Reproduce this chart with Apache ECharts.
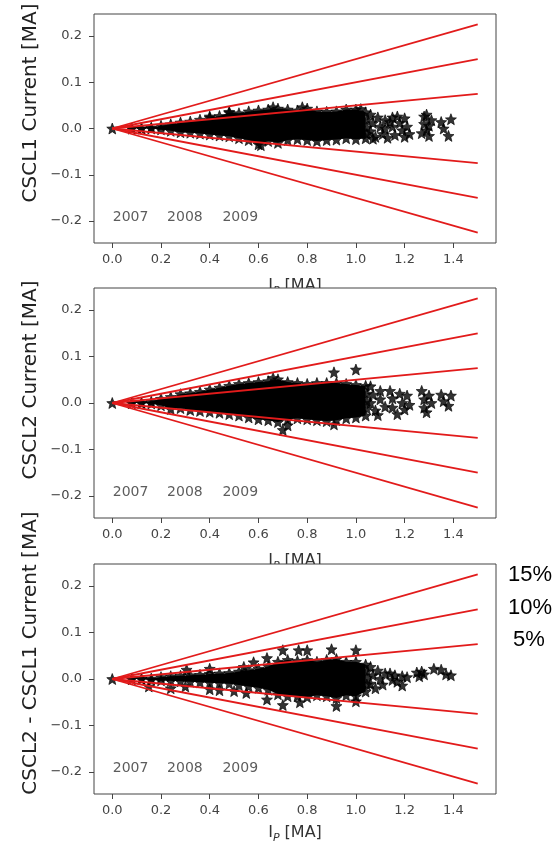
<!DOCTYPE html>
<html>
<head>
<meta charset="utf-8">
<script src="https://cdn.jsdelivr.net/npm/echarts@6/dist/echarts.min.js"></script>
<style>
html,body{margin:0;padding:0;background:#fff;}
#chart{width:556px;height:845px;}
</style>
</head>
<body>
<div id="chart"></div>
<script>
// ---------- data ----------
const xTicks = [0, 0.2, 0.4, 0.6, 0.8, 1.0, 1.2, 1.4];
const yTicks = [-0.2, -0.1, 0, 0.1, 0.2];
const years = ['2007', '2008', '2009'];
const yearX = [0.0, 0.223, 0.45];
const yearY = -0.192;
const lineEnds = [0.225, 0.15, 0.075, -0.075, -0.15, -0.225];
const lineXEnd = 1.5;
const pctLabels = ['15%', '10%', '5%'];
const panelTitles = ['CSCL1 Current [MA]', 'CSCL2 Current [MA]', 'CSCL2 - CSCL1 Current [MA]'];

// envelope columns of the dense star cloud (centre of the outermost stars)
const xs = [0.08,0.12,0.16,0.20,0.24,0.28,0.32,0.36,0.40,0.44,0.48,0.52,0.56,0.60,0.64,0.68,0.72,0.76,0.80,0.84,0.88,0.92,0.96,1.00,1.04];

const top1 = [0.000,0.000,0.002,0.006,0.009,0.013,0.015,0.019,0.023,0.027,0.034,0.033,0.037,0.039,0.041,0.043,0.041,0.039,0.043,0.037,0.036,0.037,0.041,0.041,0.035];
const bot1 = [0.000,0.000,0.000,-0.002,-0.005,-0.008,-0.009,-0.011,-0.013,-0.015,-0.017,-0.021,-0.025,-0.034,-0.027,-0.031,-0.025,-0.023,-0.025,-0.027,-0.025,-0.024,-0.021,-0.023,-0.021];
const extra1 = [[1.045,0.018],[1.045,0.002],[1.045,-0.012],
  [1.06,0.030],[1.07,0.012],[1.06,-0.006],[1.08,-0.018],[1.09,0.024],[1.10,0.004],[1.11,-0.012],[1.12,0.018],
  [1.07,-0.022],[1.12,0.000],[1.13,-0.020],[1.14,0.014],[1.17,0.026],[1.20,-0.018],
  [1.15,0.024],[1.15,0.004],[1.16,-0.014],[1.18,0.012],[1.19,-0.004],[1.20,0.022],[1.21,0.004],[1.22,-0.012],
  [1.28,0.026],[1.28,0.010],[1.29,-0.004],[1.30,-0.016],[1.31,0.018],[1.29,0.030],[1.27,-0.010],[1.30,0.006],
  [1.35,0.014],[1.36,0.000],[1.38,-0.016],[1.39,0.020],
  [0.40,0.026],[0.48,0.036],[0.61,-0.036],[0.66,0.046],[0.78,0.046],[1.02,0.042]];

const top2 = [0.000,0.000,0.003,0.009,0.013,0.019,0.021,0.024,0.029,0.033,0.037,0.041,0.043,0.045,0.047,0.051,0.045,0.043,0.041,0.043,0.043,0.043,0.041,0.039,0.037];
const bot2 = [0.000,0.000,-0.001,-0.005,-0.013,-0.011,-0.015,-0.017,-0.019,-0.021,-0.024,-0.027,-0.031,-0.035,-0.037,-0.041,-0.035,-0.033,-0.035,-0.037,-0.039,-0.037,-0.033,-0.031,-0.027];
const extra2 = [[1.045,0.020],[1.045,0.004],[1.045,-0.012],
  [0.70,-0.058],[0.72,-0.048],[0.66,0.054],[0.91,0.066],[1.00,0.072],[0.91,-0.046],
  [1.06,0.036],[1.07,0.018],[1.06,0.000],[1.08,-0.016],[1.09,-0.026],[1.10,0.026],[1.10,0.008],[1.12,-0.008],
  [1.14,0.026],[1.15,0.010],[1.15,-0.010],[1.17,-0.024],[1.18,0.020],[1.19,0.000],[1.20,-0.014],[1.21,0.016],[1.22,-0.004],
  [1.27,0.026],[1.28,0.008],[1.28,-0.010],[1.29,-0.020],[1.30,0.016],[1.31,0.000],
  [1.35,0.018],[1.36,0.004],[1.38,-0.006],[1.39,0.016]];

const top3 = [0.000,0.000,0.001,0.004,0.006,0.007,0.008,0.009,0.011,0.012,0.013,0.016,0.019,0.022,0.027,0.037,0.041,0.039,0.041,0.037,0.041,0.043,0.037,0.037,0.031];
const bot3 = [0.000,0.000,-0.002,-0.003,-0.004,-0.005,-0.006,-0.007,-0.008,-0.009,-0.010,-0.013,-0.016,-0.019,-0.023,-0.033,-0.037,-0.037,-0.039,-0.035,-0.037,-0.041,-0.035,-0.037,-0.027];
const extra3 = [[1.045,0.016],[1.045,0.002],[1.045,-0.012],
  [0.305,0.020],[0.40,0.022],[0.54,0.026],[0.58,0.036],[0.635,0.045],[0.70,0.062],[0.765,0.062],[0.80,0.062],[0.90,0.064],[1.00,0.062],
  [0.15,-0.016],[0.24,-0.020],[0.30,-0.016],[0.40,-0.022],[0.44,-0.024],[0.50,-0.026],[0.55,-0.030],[0.635,-0.044],[0.70,-0.056],[0.77,-0.050],[0.92,-0.058],[1.00,-0.048],
  [1.06,0.026],[1.07,0.008],[1.06,-0.010],[1.08,-0.020],[1.09,0.018],[1.10,0.000],[1.11,-0.012],[1.12,0.012],[1.14,0.012],[1.15,-0.002],[1.16,0.008],[1.17,-0.006],[1.19,0.006],[1.19,-0.014],[1.21,0.004],
  [1.25,0.014],[1.26,0.006],[1.27,0.016],[1.28,0.010],[1.32,0.022],[1.35,0.020],[1.37,0.010],[1.39,0.008]];

const panels = [
  {top: top1, bot: bot1, extra: extra1},
  {top: top2, bot: bot2, extra: extra2},
  {top: top3, bot: bot3, extra: extra3}
];

// ---------- layout / style ----------
const STAR = 'path://M0,-10L2.6,-3.4L9.51,-3.09L4.1,1.3L5.88,8.09L0,4.3L-5.88,8.09L-4.1,1.3L-9.51,-3.09L-2.6,-3.4Z';
const FONT = 'DejaVu Sans';
const RED = '#e21b1b';
const grids = [
  {left: 94, top: 14, width: 402, height: 229},
  {left: 94, top: 288, width: 402, height: 230},
  {left: 94, top: 564, width: 402, height: 230}
];
const nameGaps = [32, 32, 28];
const titleY = [103, 380, 653];

const fmt = v => (Math.abs(v) < 1e-9 ? '0.0' : v.toFixed(1).replace('-', '\u2212'));

const gridOpts = grids.map((g, i) => Object.assign({
  show: true, backgroundColor: '#fff', borderColor: '#444', borderWidth: 1, z: i === 0 ? 0 : 1
}, g));

const xAxes = grids.map((g, i) => ({
  type: 'value', gridIndex: i, min: -0.075, max: 1.575,
  splitLine: {show: false},
  axisLine: {show: false, onZero: false},
  axisTick: {show: true, length: 5, lineStyle: {color: '#444'}, customValues: xTicks},
  axisLabel: {customValues: xTicks, formatter: fmt, fontSize: 13, color: '#444', fontFamily: FONT, margin: 10},
  name: '{i|I}{s|P}{i| [MA]}',
  nameLocation: 'middle', nameGap: nameGaps[i],
  nameTextStyle: {
    rich: {
      i: {fontSize: 16, fontFamily: FONT, color: '#333', lineHeight: 22},
      s: {fontSize: 11, fontFamily: FONT, fontStyle: 'italic', color: '#333', lineHeight: 12, verticalAlign: 'bottom'}
    }
  },
  z: 0
}));

const yAxes = grids.map((g, i) => ({
  type: 'value', gridIndex: i, min: -0.2475, max: 0.2475,
  splitLine: {show: false},
  axisLine: {show: false, onZero: false},
  axisTick: {show: true, length: 5, lineStyle: {color: '#444'}, customValues: yTicks},
  axisLabel: {customValues: yTicks, formatter: fmt, fontSize: 13, color: '#444', fontFamily: FONT, margin: 12},
  z: 0
}));

const series = [];
panels.forEach((p, i) => {
  // dense core of the star cloud
  series.push({
    type: 'custom', xAxisIndex: i, yAxisIndex: i, z: 2, silent: true,
    data: [[0, 0]],
    renderItem: (params, api) => {
      const upper = xs.map((x, k) => api.coord([x, p.top[k]]));
      const lower = xs.map((x, k) => api.coord([x, p.bot[k]])).reverse();
      return {type: 'polygon', shape: {points: upper.concat(lower)}, style: {fill: '#000'}};
    }
  });
  // star markers
  const stars = [[0, 0]];
  xs.forEach((x, k) => { stars.push([x, p.top[k]]); stars.push([x, p.bot[k]]); });
  p.extra.forEach(pt => stars.push(pt));
  series.push({
    type: 'scatter', xAxisIndex: i, yAxisIndex: i, z: 3, silent: true,
    symbol: STAR, symbolSize: 11,
    itemStyle: {color: '#000', borderColor: '#000', borderWidth: 0.8},
    data: stars
  });
  // percentage lines
  lineEnds.forEach(v => {
    series.push({
      type: 'line', xAxisIndex: i, yAxisIndex: i, z: 4, silent: true,
      symbol: 'none', lineStyle: {color: RED, width: 1.8},
      data: [[0, 0], [lineXEnd, v]]
    });
  });
  // year texts
  series.push({
    type: 'scatter', xAxisIndex: i, yAxisIndex: i, z: 5, silent: true,
    symbolSize: 1, itemStyle: {color: 'rgba(0,0,0,0)'},
    label: {show: true, position: 'right', distance: 0, formatter: d => d.name,
      fontSize: 14, fontFamily: FONT, color: '#333'},
    data: years.map((y, k) => ({name: y, value: [yearX[k], yearY]}))
  });
});

const graphic = [];
panelTitles.forEach((t, i) => {
  graphic.push({
    type: 'text', x: 31, y: titleY[i], rotation: Math.PI / 2, z: 10,
    style: {text: t, fontSize: 20, fontFamily: FONT, fill: '#222', align: 'center', verticalAlign: 'middle'}
  });
});
const pctX = [508, 508, 513];
const pctY = [575, 608, 640];
pctLabels.forEach((t, i) => {
  graphic.push({
    type: 'text', x: pctX[i], y: pctY[i], z: 10,
    style: {text: t, fontSize: 22, fontFamily: 'Liberation Sans', fill: '#000', align: 'left', verticalAlign: 'middle'}
  });
});

const chart = echarts.init(document.getElementById('chart'), null, {renderer: 'canvas'});
chart.setOption({
  animation: false,
  backgroundColor: '#fff',
  grid: gridOpts,
  xAxis: xAxes,
  yAxis: yAxes,
  series: series,
  graphic: graphic
});
</script>
</body>
</html>
